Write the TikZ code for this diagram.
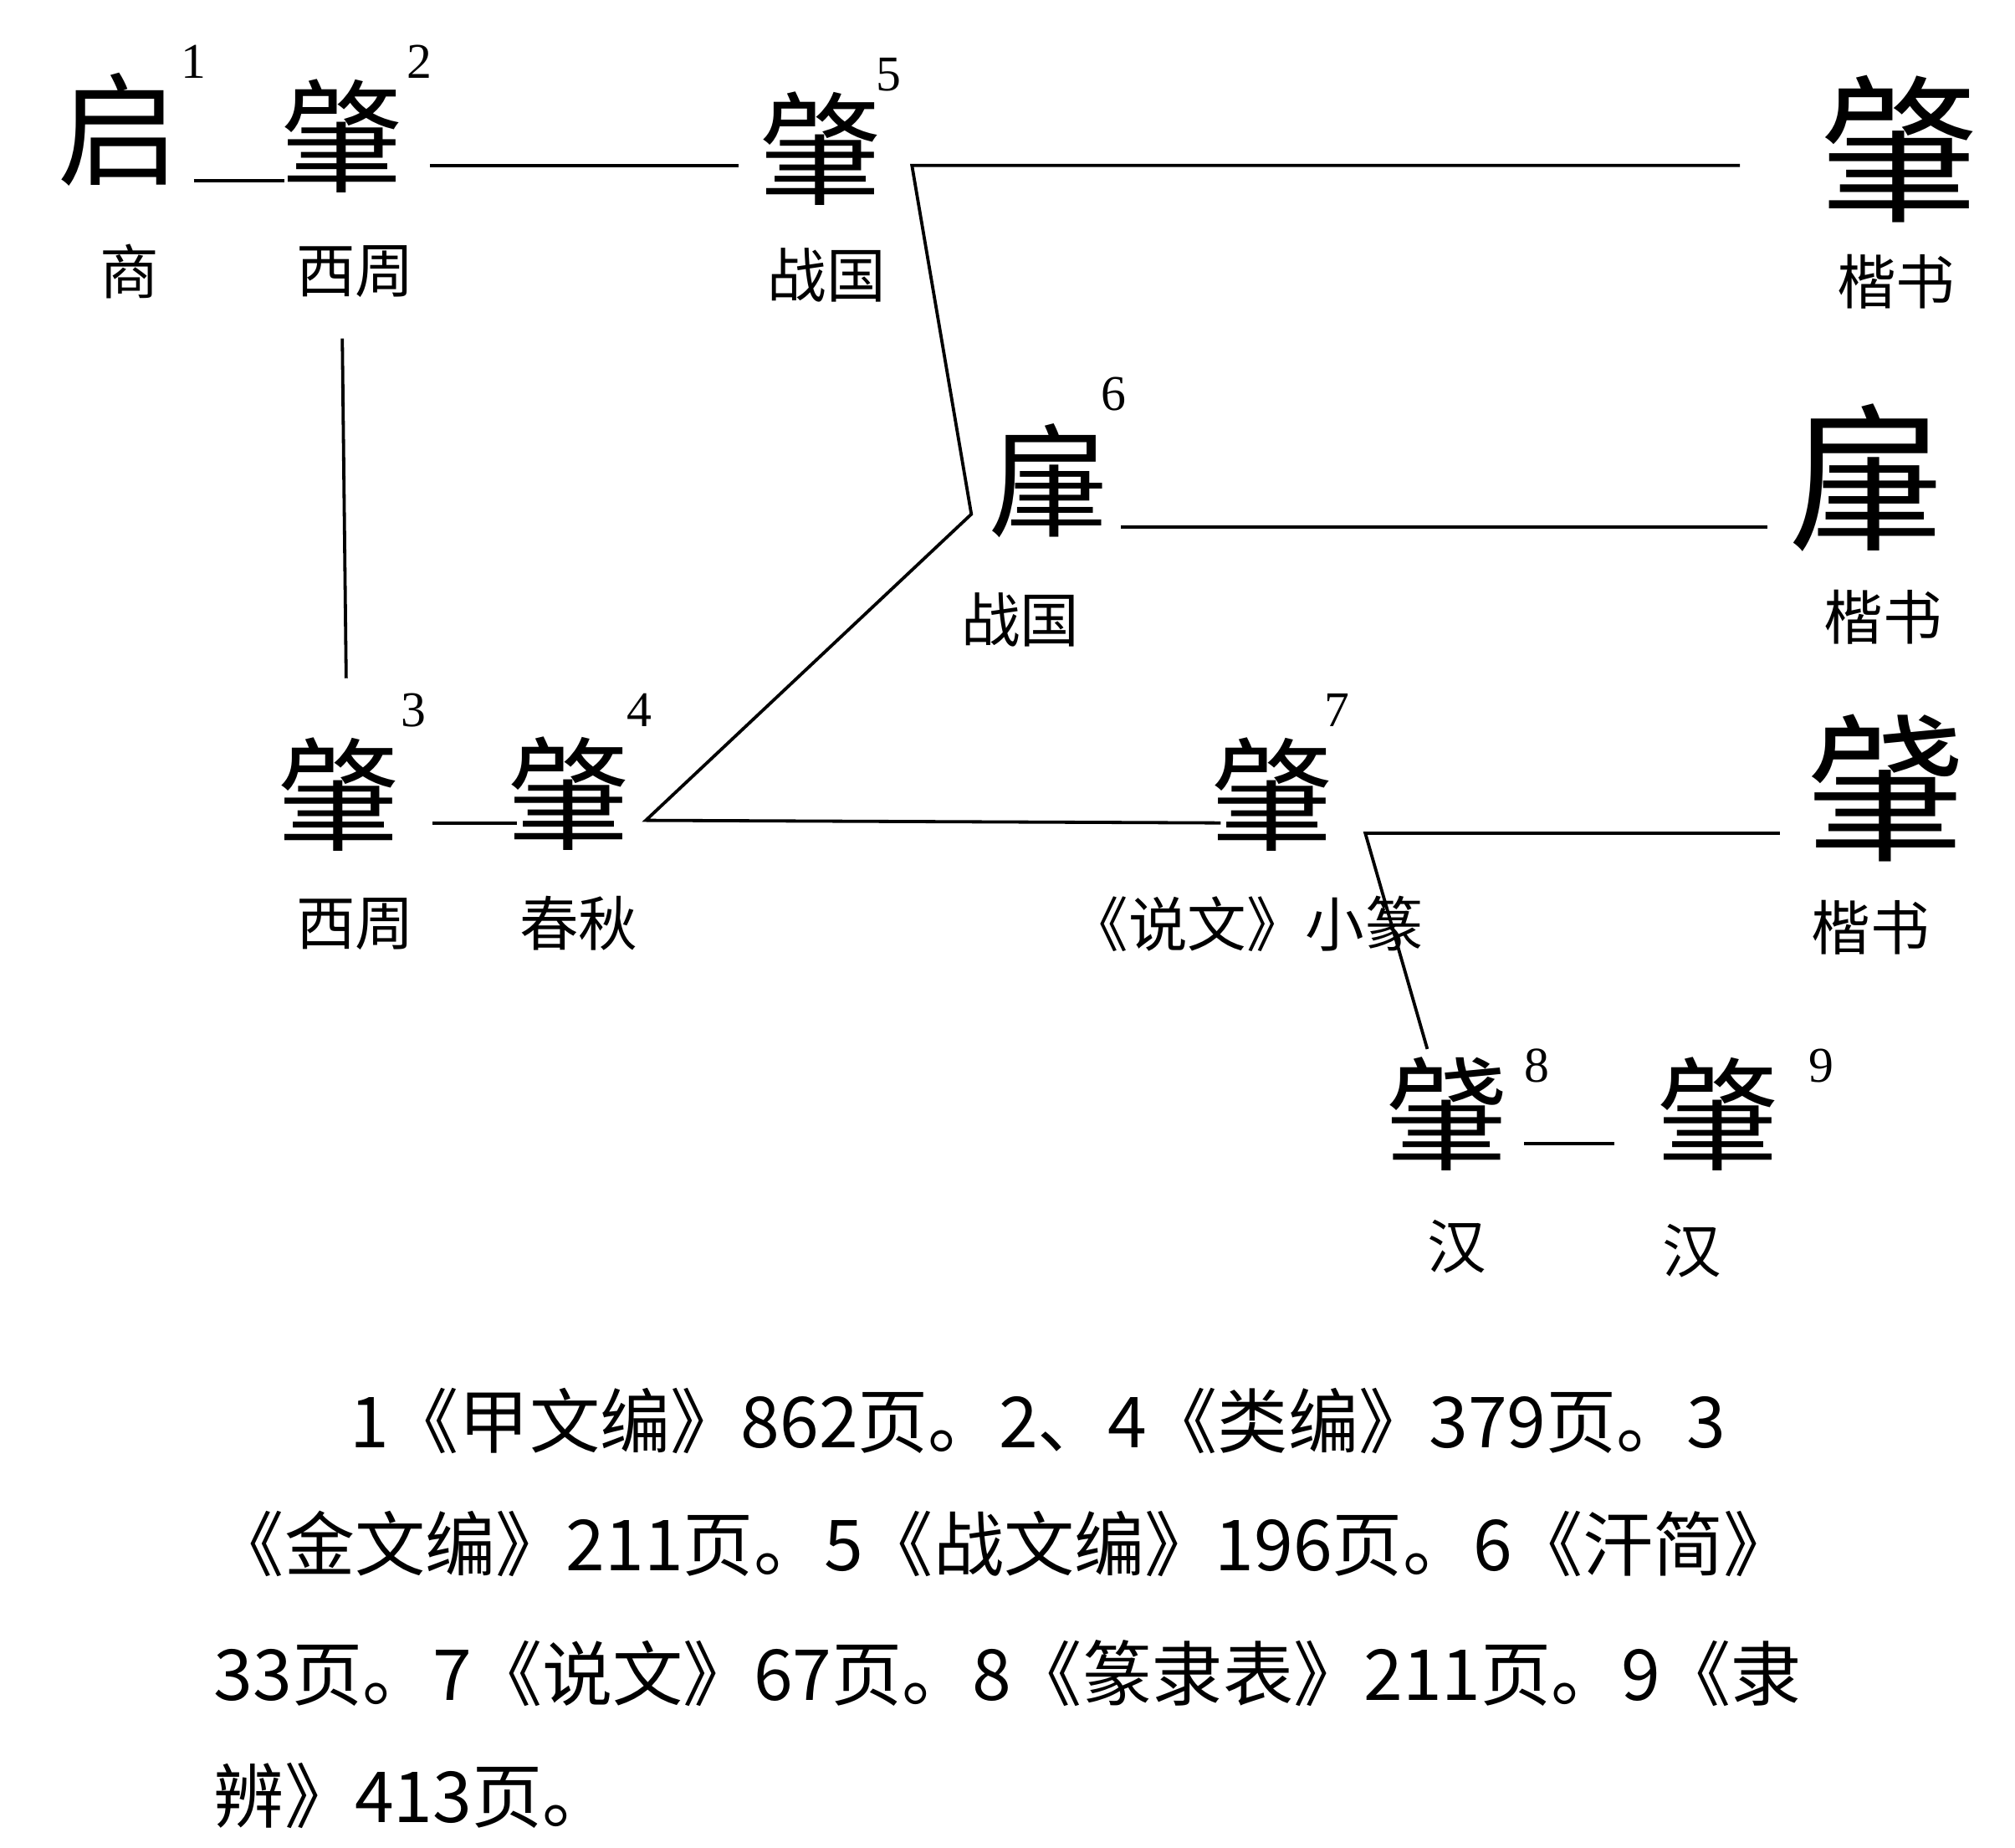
\documentclass[tikz,border=0pt]{standalone}
\usepackage{fontspec}
\setmainfont{Liberation Serif}
\newfontfamily\cjk{Noto Sans CJK SC}
\begin{document}
\begin{tikzpicture}[x=0.01cm,y=-0.01cm,
  glyph/.style={font=\cjk\fontsize{27}{27}\selectfont, inner sep=0pt},
  kai/.style={font=\cjk\fontsize{35}{35}\selectfont, inner sep=0pt},
  era/.style={font=\cjk\fontsize{13}{13}\selectfont, inner sep=0pt},
  num/.style={font=\fontsize{11}{11}\selectfont, inner sep=0pt},
  note/.style={font=\cjk\fontsize{15.5}{15.5}\selectfont, anchor=west, inner sep=0pt},
  link/.style={line width=0.7pt}]
\useasboundingbox (0,0) rectangle (1560,1430);

% Draw the glyphs
\node[glyph] (g1) at (92,100) {启};
\node[era] (e1) at (100,210) {商};
\node[num] (n1) at (150,48) {1};
\node[glyph] (g2) at (265,105) {肇};
\node[era] (e2) at (275,210) {西周};
\node[num] (n2) at (325,48) {2};
\node[glyph] (g5) at (635,115) {肇};
\node[era] (e5) at (640,213) {战国};
\node[num] (n5) at (688,58) {5};
\node[glyph] (g6) at (812,372) {肁};
\node[era] (e6) at (790,480) {战国};
\node[num] (n6) at (862,305) {6};
\node[glyph] (g3) at (262,615) {肇};
\node[era] (e3) at (275,715) {西周};
\node[num] (n3) at (320,550) {3};
\node[glyph] (g4) at (440,614) {肇};
\node[era] (e4) at (448,715) {春秋};
\node[num] (n4) at (495,550) {4};
\node[glyph] (g7) at (985,615) {肇};
\node[era] (e7) at (965,715) {《说文》小篆};
\node[num] (n7) at (1035,550) {7};
\node[glyph] (g8) at (1120,862) {肈};
\node[era] (e8) at (1128,965) {汉};
\node[num] (n8) at (1190,825) {8};
\node[glyph] (g9) at (1330,862) {肇};
\node[era] (e9) at (1310,968) {汉};
\node[num] (n9) at (1410,825) {9};

% Regular script
\node[kai] (k1) at (1470,115) {肇};
\node[era] (ek1) at (1468,218) {楷书};
\node[kai] (k2) at (1445,370) {肁};
\node[era] (ek2) at (1458,478) {楷书};
\node[kai] (k3) at (1460,610) {肈};
\node[era] (ek3) at (1448,718) {楷书};

% Draw the connectors
\coordinate (a1) at (150,140); \coordinate (a2) at (220,140);
\coordinate (b2) at (333,128); \coordinate (b5) at (572,128);
\coordinate (c5) at (706,128); \coordinate (c1) at (1347,128);
\coordinate (c6) at (752,398);
\coordinate (d6) at (868,408); \coordinate (d2) at (1368,408);
\coordinate (f2) at (265,262); \coordinate (f3) at (268,525);
\coordinate (h3) at (335,637); \coordinate (h4) at (400,637);
\coordinate (i4) at (500,635); \coordinate (i7) at (945,637);
\coordinate (j7) at (1057,645); \coordinate (j3) at (1378,645);
\coordinate (j8) at (1105,812);
\coordinate (m8) at (1180,885); \coordinate (m9) at (1250,885);

\draw[link] (a1) -- (a2);
\draw[link] (b2) -- (b5);
\draw[link] (c1) -- (c5) -- (c6) -- (i4) -- (i7);
\draw[link] (d6) -- (d2);
\draw[link] (f2) -- (f3);
\draw[link] (h3) -- (h4);
\draw[link] (j3) -- (j7) -- (j8);
\draw[link] (m8) -- (m9);

% Notes
\node[note] (t1) at (270,1100) {1《甲文编》862页。2、4《类编》379页。3};
\node[note] (t2) at (165,1195) {《金文编》211页。5《战文编》196页。6《汗简》};
\node[note] (t3) at (165,1295) {33页。7《说文》67页。8《篆隶表》211页。9《隶};
\node[note] (t4) at (165,1390) {辨》413页。};
\end{tikzpicture}
\end{document}
